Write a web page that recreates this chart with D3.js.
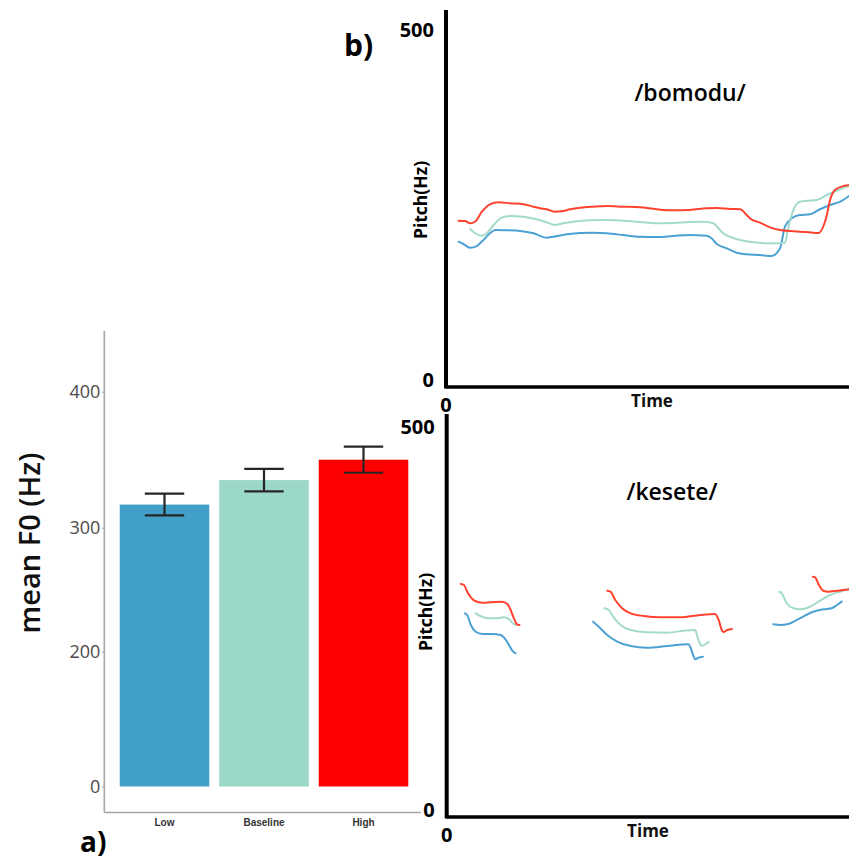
<!DOCTYPE html>
<html>
<head>
<meta charset="utf-8">
<script src="https://cdn.jsdelivr.net/npm/d3@7"></script>
<style>
  html, body { margin: 0; padding: 0; background: #fff; }
  svg { display: block; font-family: "Open Sans", "Noto Sans", sans-serif; }
</style>
</head>
<body>
<svg id="chart" width="849" height="862"></svg>
<script>
// ---- a) mean F0 per condition ----
const categories = ["Low", "Baseline", "High"];
const meanF0 = [317, 335, 350];
const meanF0Err = [8, 8.3, 9.6];
const barColors = ["#42a0c8", "#9cd8c8", "#ff0000"];
const barTicks = [0, 200, 300, 400];

// ---- b) pitch contours, [time (% of utterance), pitch (Hz)] ----
const seriesNames = ["Low", "Baseline", "High"];
const lineColors = ["#4ba2d3", "#a3dbc9", "#ff4230"];

const bomoduLow = [[3.1,207.6],[4.3,204.3],[6.0,199],[7.6,201.4],[9.3,210],[10.9,219.6],[12.2,224.3],[15.1,223.9],[18.4,222.9],[21.7,219.6],[25,213.3],[26.6,214.7],[30,218.1],[33.3,220],[36.6,220.4],[39.9,219.6],[44,217.1],[48.1,214.7],[52.3,214.3],[56.4,215.7],[60.5,217.1],[64.7,216.1],[65.9,212.4],[67.2,204.3],[69.7,198.1],[72.1,191.9],[74.6,189.6],[77.9,188.6],[80.8,187.1],[82.9,198.1],[84.1,229],[85.8,241],[87.8,245.7],[90.3,246.7],[92.8,253.9],[95.3,260],[97.8,264.7],[100,272.9]];
const bomoduBaseline = [[6.0,225.7],[7.2,219.6],[8.9,216.1],[10.5,221.9],[12.2,233.9],[13.8,241.9],[15.9,244.3],[19.2,243.3],[22.5,239.6],[25,235.3],[27,231.4],[29.1,233.9],[31.6,236.1],[35.7,238.1],[39.9,238.6],[44,237.6],[48.1,235.7],[52.3,233.9],[56.4,234.3],[60.5,235.7],[63.8,236.1],[66.3,233.9],[67.6,226.7],[68.8,219.6],[70.5,214.7],[73,210],[76.3,206.7],[79.6,205.3],[82.1,205.3],[84.1,206.1],[84.9,226.7],[86.2,252.9],[87.8,264.7],[89.5,266.1],[92,267.1],[94.5,274.3],[96.9,280.4],[100,287.1]];
const bomoduHigh = [[3.1,237.6],[4.7,237.1],[6.0,233.9],[7.2,236.1],[8.9,250.4],[10.9,261],[13,263.9],[15.9,262.4],[19.2,261],[21.7,257.6],[23.3,255.3],[25,253.9],[27,250.4],[28.7,251],[30.8,253.9],[33.3,256.1],[36.5,257.6],[39.9,258.6],[44,257.6],[48.1,256.7],[52.3,253.9],[56.4,252.4],[60.5,252.9],[64.7,255.3],[67.2,255.7],[70.5,254.3],[73,253.9],[74.6,245.7],[75.4,241],[77.9,234.7],[80.4,228.1],[82.9,224.3],[86.2,222.4],[89.5,221.4],[92.4,220],[94.5,245.7],[95.3,267],[96.5,281.4],[98.6,287.1],[100,288.1]];

// /kesete/ is voiced in three separate stretches
const keseteLow = [
  [[4.5,265.9],[5.1,263.7],[6.0,250.7],[7.2,241.9],[8.9,238.9],[11.3,238.9],[13.4,237.6],[14.6,232],[15.5,224.5],[16.3,217.1],[17.1,213.7]],
  [[36.4,255],[37.8,248.4],[39.9,237.6],[42.4,228.9],[45.7,223.2],[49.8,221],[54.8,223.2],[60.1,225.5],[60.7,220.2],[61.4,209.3],[61.8,205.9],[62.6,208],[63.7,209.3]],
  [[81.2,251.6],[82.9,250.7],[84.9,252],[87.8,259.4],[91.1,268],[93.6,271.1],[95.7,272.5],[97,276.8],[98.2,281.1]]
];
const keseteBaseline = [
  [[7.2,265.9],[8.4,262.4],[10.1,259.4],[12.6,259.4],[14.2,260.7],[15.5,258.1],[16.3,253.7],[17.1,250.7]],
  [[39.2,272.5],[40.3,270.2],[41.5,260.7],[43.2,250.7],[45.7,244.1],[49.8,241.1],[54.8,240.6],[58.9,243.2],[61.8,244.1],[62.2,237.6],[62.9,226.8],[63.4,223.6],[64.7,226.8],[65.1,228.5]],
  [[82.7,294.1],[83.3,292],[84.5,279],[86.2,272.5],[87.8,271.1],[90.3,274.5],[92.8,282.4],[95.3,289.8],[97.8,294.1],[100,297.3]]
];
const keseteHigh = [
  [[3.5,304.2],[4.3,302.9],[5.1,294.1],[6.0,286.8],[7.2,281.6],[8.9,279.8],[10.9,280.3],[13.8,281.1],[15.1,278.1],[15.9,270.2],[16.7,259.4],[17.5,251.6],[18.1,250.7]],
  [[39.9,295.4],[40.7,294.1],[41.9,283.3],[43.6,272.5],[45.7,265.9],[49,262.4],[53.1,260.7],[58.1,260.7],[63,263.7],[66.7,265],[67.6,257.2],[68.4,244.1],[68.8,241.5],[69.7,244.1],[70.9,245.4]],
  [[91,313.7],[91.6,312.9],[92.4,304.2],[93.6,295.4],[94.9,294.1],[96.5,295],[98.6,296.3],[100,297.3]]
];
const pitchTicks = [0, 500];

const svg = d3.select("#chart");
svg.append("rect").attr("width", 849).attr("height", 862).attr("fill", "#fff");

// ================= panel a: bar chart =================
const axisGray = "#a6a6a6";
const xBar = d3.scaleBand().domain(categories).range([104, 424])
  .paddingInner(0.1).paddingOuter(0.158);
// the printed axis is not evenly spaced, so map the tick values piecewise
const yBar = d3.scaleLinear().domain([0, 200, 300, 400]).range([786.5, 651.7, 527.7, 391.7]);

const gA = svg.append("g");
gA.append("line").attr("x1", 104.3).attr("x2", 104.3).attr("y1", 331).attr("y2", 812.5)
  .attr("stroke", axisGray).attr("stroke-width", 1.6);
gA.append("line").attr("x1", 104.3).attr("x2", 421).attr("y1", 812.5).attr("y2", 812.5)
  .attr("stroke", axisGray).attr("stroke-width", 1.6);

const yAx = gA.append("g").attr("transform", "translate(104.3,0)")
  .call(d3.axisLeft(yBar).tickValues(barTicks).tickSize(2.5).tickPadding(1.5));
yAx.select(".domain").remove();
yAx.selectAll(".tick line").attr("stroke", axisGray);
yAx.selectAll(".tick text").attr("fill", "#4e4a4a")
  .style("font-size", "18px").style("font-family", "'Open Sans', sans-serif");

gA.selectAll("rect.bar").data(categories).join("rect").attr("class", "bar")
  .attr("x", d => xBar(d)).attr("width", xBar.bandwidth())
  .attr("y", (d, i) => yBar(meanF0[i]))
  .attr("height", (d, i) => yBar(0) - yBar(meanF0[i]))
  .attr("fill", (d, i) => barColors[i]);

const capW = xBar.bandwidth() * 0.44;
const eb = gA.selectAll("g.err").data(categories).join("g").attr("class", "err")
  .attr("stroke", "#262626").attr("stroke-width", 2.2);
eb.append("line")
  .attr("x1", d => xBar(d) + xBar.bandwidth() / 2).attr("x2", d => xBar(d) + xBar.bandwidth() / 2)
  .attr("y1", (d, i) => yBar(meanF0[i] + meanF0Err[i])).attr("y2", (d, i) => yBar(meanF0[i] - meanF0Err[i]));
eb.append("line")
  .attr("x1", d => xBar(d) + xBar.bandwidth() / 2 - capW / 2).attr("x2", d => xBar(d) + xBar.bandwidth() / 2 + capW / 2)
  .attr("y1", (d, i) => yBar(meanF0[i] + meanF0Err[i])).attr("y2", (d, i) => yBar(meanF0[i] + meanF0Err[i]));
eb.append("line")
  .attr("x1", d => xBar(d) + xBar.bandwidth() / 2 - capW / 2).attr("x2", d => xBar(d) + xBar.bandwidth() / 2 + capW / 2)
  .attr("y1", (d, i) => yBar(meanF0[i] - meanF0Err[i])).attr("y2", (d, i) => yBar(meanF0[i] - meanF0Err[i]));

gA.selectAll("text.xl").data(categories).join("text").attr("class", "xl")
  .attr("x", d => xBar(d) + xBar.bandwidth() / 2).attr("y", 825.5)
  .attr("text-anchor", "middle").attr("fill", "#333")
  .style("font-family", "'Liberation Sans', Arial, sans-serif")
  .style("font-size", "10px").style("font-weight", "700").text(d => d);

gA.append("text").attr("transform", "translate(40,543) rotate(-90)")
  .attr("text-anchor", "middle").attr("fill", "#111")
  .style("font-size", "29px").style("font-weight", "600").text("mean F0 (Hz)");

gA.append("text").attr("x", 80).attr("y", 852).attr("fill", "#000")
  .style("font-size", "28px").style("font-weight", "700").text("a)");

// ================= panel b: pitch contours =================
function pitchPanel(opts) {
  const g = svg.append("g");
  const x = d3.scaleLinear().domain([0, 100]).range([opts.x0, 849]);
  const y = d3.scaleLinear().domain([0, 500]).range([opts.yBase, opts.yTop]);
  const line = d3.line().x(d => x(d[0])).y(d => y(d[1])).curve(d3.curveMonotoneX);

  opts.series.forEach((segs, i) => {
    segs.forEach(seg => {
      g.append("path").attr("d", line(seg)).attr("fill", "none")
        .attr("stroke", lineColors[i]).attr("stroke-width", 2)
        .attr("stroke-linejoin", "round").attr("stroke-linecap", "round");
    });
  });

  // axes
  g.append("line").attr("x1", opts.x0).attr("x2", opts.x0)
    .attr("y1", opts.axisTop).attr("y2", opts.yBase + 1.5)
    .attr("stroke", "#000").attr("stroke-width", 4);
  g.append("line").attr("x1", opts.x0).attr("x2", 849)
    .attr("y1", opts.yBase).attr("y2", opts.yBase)
    .attr("stroke", "#000").attr("stroke-width", 3.5);

  g.selectAll("text.yt").data(pitchTicks).join("text").attr("class", "yt")
    .attr("x", opts.x0 - 12).attr("y", d => y(d) - 7).attr("dy", "0.35em")
    .attr("text-anchor", "end").attr("fill", "#000")
    .style("font-size", "20px").style("font-weight", "700").text(d => d);
  g.append("text").attr("x", x(0)).attr("y", opts.yBase + 18).attr("dy", "0.35em")
    .attr("text-anchor", "middle").attr("fill", "#000")
    .style("font-size", "20px").style("font-weight", "700").text("0");
  g.append("text").attr("x", opts.timeX).attr("y", opts.yBase + 14).attr("dy", "0.35em")
    .attr("text-anchor", "middle").attr("fill", "#111")
    .style("font-size", "17px").style("font-weight", "700").text("Time");
  g.append("text").attr("transform", `translate(${opts.pitchX},${opts.pitchY}) rotate(-90)`)
    .attr("dy", "0.35em").attr("text-anchor", "middle").attr("fill", "#000")
    .style("font-size", "17.5px").style("font-weight", "700").text("Pitch(Hz)");
  g.append("text").attr("x", opts.titleX).attr("y", opts.titleY).attr("dy", "0.35em")
    .attr("text-anchor", "middle").attr("fill", "#000")
    .style("font-size", "23px").style("font-weight", "600").text(opts.title);
}

pitchPanel({
  x0: 446, yBase: 387, yTop: 37, axisTop: 10,
  series: [[bomoduLow], [bomoduBaseline], [bomoduHigh]],
  title: "/bomodu/", titleX: 690, titleY: 93,
  timeX: 652, pitchX: 421, pitchY: 200
});
pitchPanel({
  x0: 446.7, yBase: 817, yTop: 434, axisTop: 414,
  series: [keseteLow, keseteBaseline, keseteHigh],
  title: "/kesete/", titleX: 672, titleY: 492,
  timeX: 648, pitchX: 426, pitchY: 612
});

svg.append("text").attr("x", 344).attr("y", 56).attr("fill", "#000")
  .style("font-size", "30px").style("font-weight", "700").text("b)");
</script>
</body>
</html>
